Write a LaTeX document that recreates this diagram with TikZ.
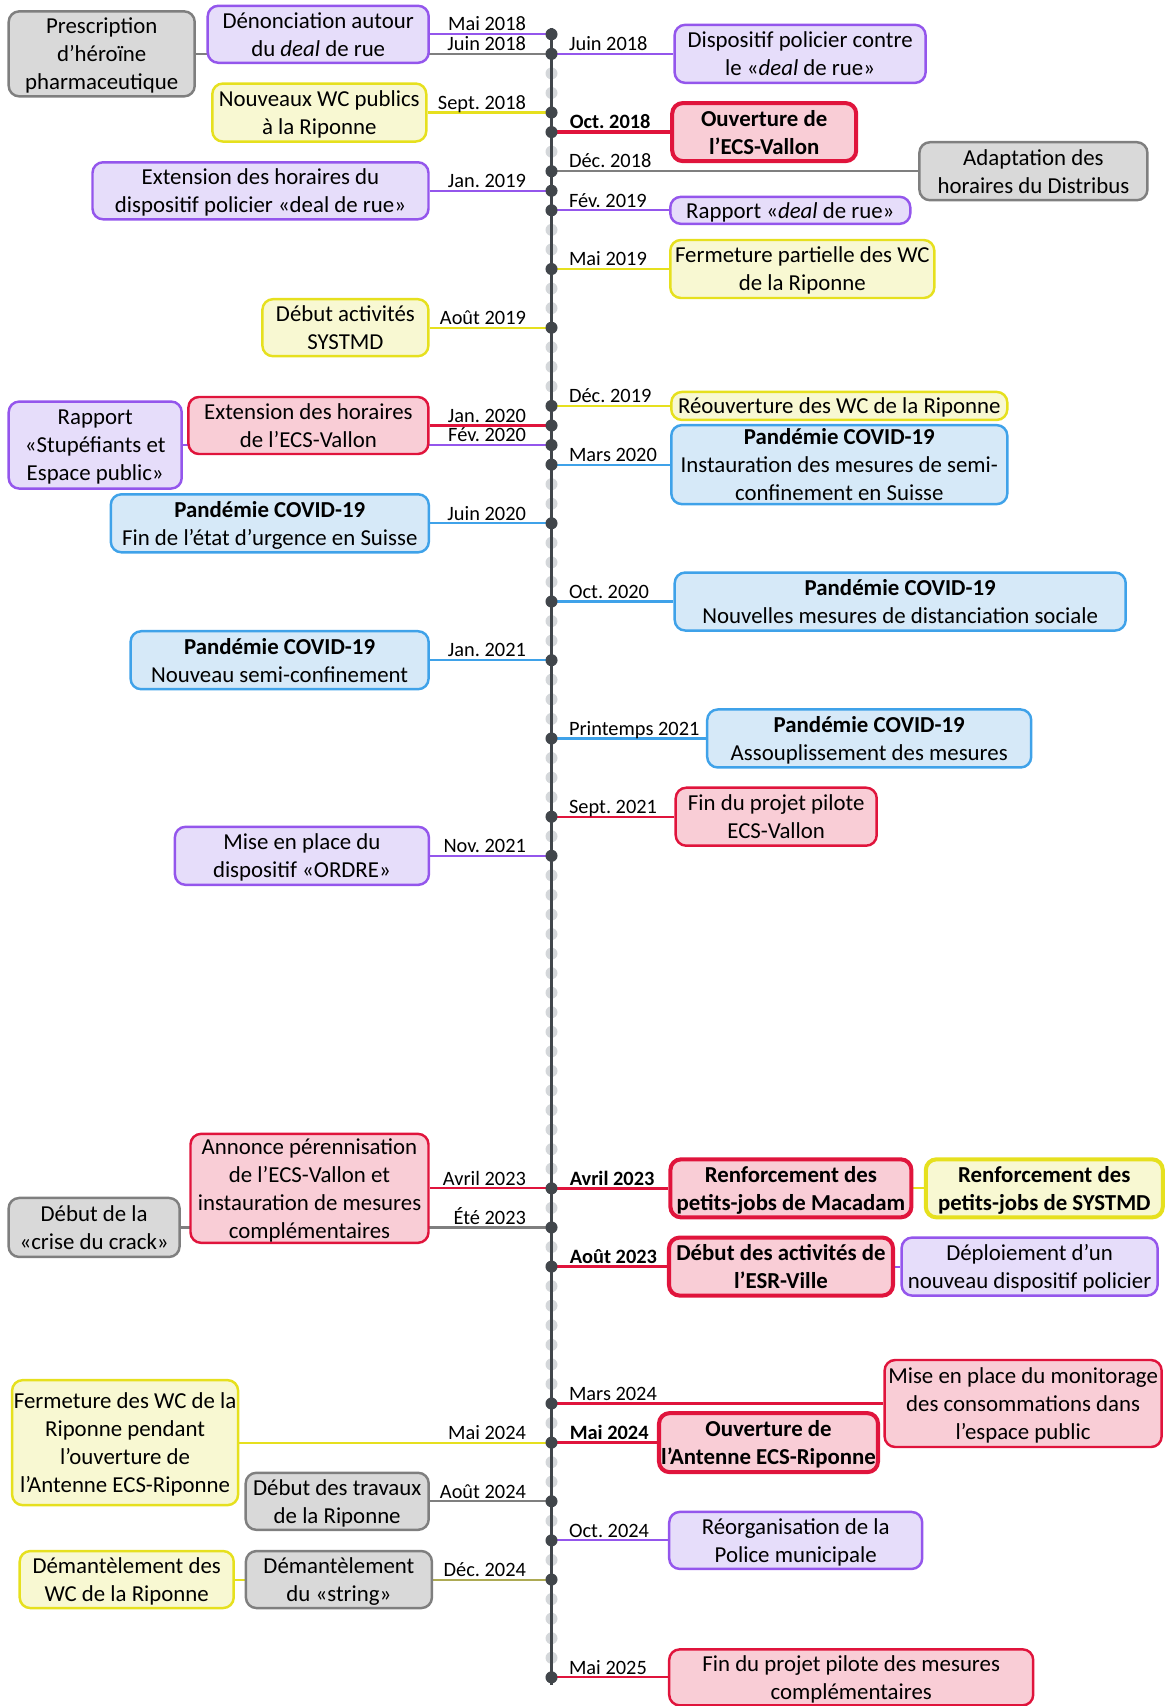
\documentclass[tikz,border=0pt]{standalone}
\usepackage{fontspec}
\setmainfont{Carlito}
\usetikzlibrary{backgrounds}
\definecolor{axegris}{HTML}{41464B}
\definecolor{pointgris}{HTML}{D4D7DA}
\definecolor{violetbord}{HTML}{9456EC}
\definecolor{violetfond}{HTML}{E6DDFA}
\definecolor{jaunebord}{HTML}{E6E01E}
\definecolor{jaunefond}{HTML}{F8F8D2}
\definecolor{rougebord}{HTML}{E0143C}
\definecolor{rougefond}{HTML}{F9CDD6}
\definecolor{grisbord}{HTML}{7F7F7F}
\definecolor{grisfond}{HTML}{D9D9D9}
\definecolor{bleubord}{HTML}{3FA2E9}
\definecolor{bleufond}{HTML}{D6E9F8}
\newcommand{\boxfont}{\fontsize{13}{15.9}\selectfont}
\newcommand{\datefont}{\fontsize{11.6}{14}\selectfont\frenchspacing}
\frenchspacing

\begin{document}
\begin{tikzpicture}[x=0.02cm,y=-0.02cm]
 \tikzset{boite/.style={rounded corners=6pt,line width=1.4pt,align=center,inner xsep=1pt,inner ysep=0.5pt,font=\boxfont,text depth=-1pt},
  taille/.style 2 args={minimum width=#1*0.02cm,minimum height=#2*0.02cm},
  fort/.style={line width=2.3pt,font=\boxfont\bfseries},
  boiteviolet/.style={boite,draw=violetbord,fill=violetfond},
  boitejaune/.style={boite,draw=jaunebord,fill=jaunefond},
  boiterouge/.style={boite,draw=rougebord,fill=rougefond},
  boitegris/.style={boite,draw=grisbord,fill=grisfond},
  boitebleu/.style={boite,draw=bleubord,fill=bleufond},
  lien/.style={line width=1.2pt},
  lienfort/.style={line width=2pt},
  gauche/.style={pos=0,anchor=base east,xshift=-0.49cm,yshift=0.066cm,inner sep=0pt,font=\datefont,text=black},
  droite/.style={pos=0,anchor=base west,xshift=0.33cm,yshift=0.066cm,inner sep=0pt,font=\datefont,text=black}}
 \useasboundingbox (0,0) rectangle (1165,1706);

 \foreach \i in {0,...,84} \coordinate (m\i) at (551.5,{34.3+19.56*\i});
 \coordinate (haut) at (551.5,28);
 \coordinate (bas) at (551.5,1685);

 \node[boitegris,taille={186}{85}] (prescription) at (101.7,0 |- m1) {Prescription\\d’héroïne\\pharmaceutique};
 \node[boiteviolet,taille={221}{57}] (denonciation) at (318.2,0 |- m0) {Dénonciation autour\\du \textit{deal} de rue};
 \node[boitejaune,taille={214}{58}] (wcneufs) at (319.3,0 |- m4) {Nouveaux WC publics\\à la Riponne};
 \node[boiteviolet,taille={336}{57}] (extpolice) at (260.5,0 |- m8) {Extension des horaires du\\dispositif policier «deal de rue»};
 \node[boitejaune,taille={166}{57}] (systmd) at (345.4,0 |- m15) {Début activités\\SYSTMD};
 \node[boiteviolet,taille={173}{87}] (rapportstup) at (95.2,0 |- m21) {Rapport\\«Stupéfiants et\\Espace public»};
 \node[boiterouge,taille={240}{57}] (extecs) at (308.4,0 |- m20) {Extension des horaires\\de l’ECS-Vallon};
 \node[boitebleu,taille={318}{58}] (finurgence) at (269.8,0 |- m25) {\textbf{Pandémie COVID-19}\\Fin de l’état d’urgence en Suisse};
 \node[boitebleu,taille={298}{58}] (semiconfbis) at (279.6,0 |- m32) {\textbf{Pandémie COVID-19}\\Nouveau semi-confinement};
 \node[boiteviolet,taille={254}{58}] (ordre) at (301.9,0 |- m42) {Mise en place du\\dispositif «ORDRE»};
 \node[boitegris,taille={171}{59}] (crack) at (94.1,0 |- m61) {Début de la\\«crise du crack»};
 \node[boiterouge,taille={238}{109}] (perennisation) at (309.5,0 |- m59) {Annonce pérennisation\\de l’ECS-Vallon et\\instauration de mesures\\complémentaires};
 \node[boitejaune,taille={226}{125}] (fermwc) at (125.1,0 |- m72) {Fermeture des WC de la\\Riponne pendant\\l’ouverture de\\l’Antenne ECS-Riponne};
 \node[boitegris,taille={183}{57}] (travaux) at (337.2,0 |- m75) {Début des travaux\\de la Riponne};
 \node[boitejaune,taille={214}{57}] (demwc) at (126.7,0 |- m79) {Démantèlement des\\WC de la Riponne};
 \node[boitegris,taille={186}{57}] (string) at (338.9,0 |- m79) {Démantèlement\\du «string»};

 \node[boiteviolet,taille={251}{58}] (dispositif) at (800.1,0 |- m1) {Dispositif policier contre\\le «\textit{deal} de rue»};
 \node[boiterouge,fort,taille={184}{58}] (ecsvallon) at (764.2,0 |- m5) {Ouverture de\\l’ECS-Vallon};
 \node[boitegris,taille={228}{58}] (distribus) at (1033.4,0 |- m7) {Adaptation des\\horaires du Distribus};
 \node[boiteviolet,taille={240}{27}] (rapportdeal) at (790.3,0 |- m9) {Rapport «\textit{deal} de rue»};
 \node[boitejaune,taille={264}{58}] (fermpartielle) at (802.3,0 |- m12) {Fermeture partielle des WC\\de la Riponne};
 \node[boitejaune,taille={336}{28}] (reouverture) at (839.3,0 |- m19) {Réouverture des WC de la Riponne};
 \node[boitebleu,taille={336}{79}] (semiconf) at (839.3,0 |- m22) {\textbf{Pandémie COVID-19}\\Instauration des mesures de semi-\\confinement en Suisse};
 \node[boitebleu,taille={451}{58}] (distanciation) at (900.2,0 |- m29) {\textbf{Pandémie COVID-19}\\Nouvelles mesures de distanciation sociale};
 \node[boitebleu,taille={324}{58}] (assouplissement) at (869.2,0 |- m36) {\textbf{Pandémie COVID-19}\\Assouplissement des mesures};
 \node[boiterouge,taille={201}{58}] (finecs) at (776.2,0 |- m40) {Fin du projet pilote\\ECS-Vallon};
 \node[boiterouge,fort,taille={241}{58}] (macadam) at (790.9,0 |- m59) {Renforcement des\\petits-jobs de Macadam};
 \node[boitejaune,fort,taille={237}{58}] (systmdplus) at (1044.3,0 |- m59) {Renforcement des\\petits-jobs de SYSTMD};
 \node[boiterouge,fort,taille={224}{58}] (esr) at (781,0 |- m63) {Début des activités de\\l’ESR-Ville};
 \node[boiteviolet,taille={256}{58}] (deploiement) at (1029.6,0 |- m63) {Déploiement d’un\\nouveau dispositif policier};
 \node[boiterouge,taille={277}{87}] (monitorage) at (1023.1,0 |- m70) {Mise en place du monitorage\\des consommations dans\\l’espace public};
 \node[boiterouge,fort,taille={219}{59}] (antenne) at (768.5,0 |- m72) {Ouverture de\\l’Antenne ECS-Riponne};
 \node[boiteviolet,taille={253}{57}] (police) at (795.7,0 |- m77) {Réorganisation de la\\Police municipale};
 \node[boiterouge,taille={364}{56}] (finmesures) at (851.2,0 |- m84) {Fin du projet pilote des mesures\\complémentaires};

 \begin{pgfonlayer}{background}
  \foreach \i in {0,...,84} \fill[pointgris] (m\i) circle (0.12cm);
  \draw[line width=1.8pt,axegris] (haut) -- (bas);

  \draw[lien,draw=violetbord] (m0) -- (denonciation) node[gauche] {Mai 2018};
  \draw[lien,draw=grisbord] (m1) -- (prescription) node[gauche] {Juin 2018};
  \draw[lien,draw=jaunebord] (m4) -- (wcneufs) node[gauche] {Sept. 2018};
  \draw[lien,draw=violetbord] (m8) -- (extpolice) node[gauche] {Jan. 2019};
  \draw[lien,draw=jaunebord] (m15) -- (systmd) node[gauche] {Août 2019};
  \draw[lien,draw=rougebord] (m20) -- (extecs) node[gauche] {Jan. 2020};
  \draw[lien,draw=violetbord] (m21) -- (rapportstup) node[gauche] {Fév. 2020};
  \draw[lien,draw=bleubord] (m25) -- (finurgence) node[gauche] {Juin 2020};
  \draw[lien,draw=bleubord] (m32) -- (semiconfbis) node[gauche] {Jan. 2021};
  \draw[lien,draw=violetbord] (m42) -- (ordre) node[gauche] {Nov. 2021};
  \draw[lien,draw=rougebord] (m59) -- (perennisation) node[gauche] {Avril 2023};
  \draw[lien,draw=grisbord] (m61) -- (crack) node[gauche] {Été 2023};
  \draw[lien,draw=jaunebord] (m72) -- (fermwc) node[gauche] {Mai 2024};
  \draw[lien,draw=grisbord] (m75) -- (travaux) node[gauche] {Août 2024};
  \draw[lien,draw=jaunebord] (m79) -- (demwc);
  \draw[lien,draw=grisbord,draw opacity=.55] (m79) -- (string) node[gauche] {Déc. 2024};

  \draw[lien,draw=violetbord] (m1) -- (dispositif) node[droite] {Juin 2018};
  \draw[lienfort,draw=rougebord] (m5) -- (ecsvallon) node[droite,font=\datefont\bfseries] {Oct. 2018};
  \draw[lien,draw=grisbord] (m7) -- (distribus) node[droite] {Déc. 2018};
  \draw[lien,draw=violetbord] (m9) -- (rapportdeal) node[droite] {Fév. 2019};
  \draw[lien,draw=jaunebord] (m12) -- (fermpartielle) node[droite] {Mai 2019};
  \draw[lien,draw=jaunebord] (m19) -- (reouverture) node[droite] {Déc. 2019};
  \draw[lien,draw=bleubord] (m22) -- (semiconf) node[droite] {Mars 2020};
  \draw[lien,draw=bleubord] (m29) -- (distanciation) node[droite] {Oct. 2020};
  \draw[lien,draw=bleubord] (m36) -- (assouplissement) node[droite] {Printemps 2021};
  \draw[lien,draw=rougebord] (m40) -- (finecs) node[droite] {Sept. 2021};
  \draw[lienfort,draw=rougebord] (m59) -- (macadam) node[droite,font=\datefont\bfseries] {Avril 2023};
  \draw[lien,draw=jaunebord] (macadam) -- (systmdplus);
  \draw[lienfort,draw=rougebord] (m63) -- (esr) node[droite,font=\datefont\bfseries] {Août 2023};
  \draw[lien,draw=violetbord] (esr) -- (deploiement);
  \draw[lien,draw=rougebord] (m70) -- (monitorage) node[droite] {Mars 2024};
  \draw[lienfort,draw=rougebord] (m72) -- (antenne) node[droite,font=\datefont\bfseries] {Mai 2024};
  \draw[lien,draw=violetbord] (m77) -- (police) node[droite] {Oct. 2024};
  \draw[lien,draw=rougebord] (m84) -- (finmesures) node[droite] {Mai 2025};
 \end{pgfonlayer}

 \foreach \i in {0,1,4,5,7,8,9,12,15,19,20,21,22,25,29,32,36,40,42,59,61,63,70,72,75,77,79,84}
  \fill[axegris] (m\i) circle (0.12cm);
\end{tikzpicture}
\end{document}
